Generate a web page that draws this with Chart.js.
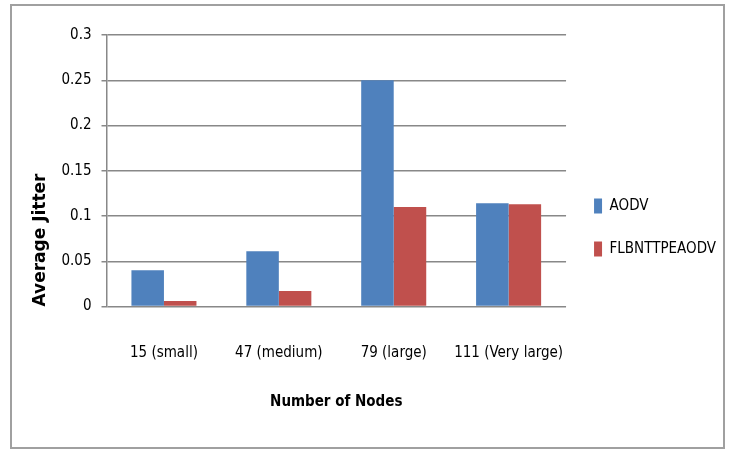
<!DOCTYPE html>
<html>
<head>
<meta charset="utf-8">
<script src="https://cdn.jsdelivr.net/npm/chart.js@4/dist/chart.umd.min.js"></script>
<style>
  html, body { margin: 0; padding: 0; background: #fff; }
  #wrap { position: relative; width: 734px; height: 449px; overflow: hidden; }
  #c { position: absolute; left: 0; top: 0; }
  #frame {
    position: absolute; left: 10px; top: 4px; width: 715px; height: 445px;
    border: 2px solid #a0a0a0; box-sizing: border-box; pointer-events: none;
  }
</style>
</head>
<body>
<div id="wrap">
  <canvas id="c" width="734" height="449"></canvas>
  <div id="frame"></div>
</div>
<script>
// Node counts on the x axis
const categories = ['15 (small)', '47 (medium)', '79 (large)', '111 (Very large)'];
// Average jitter per protocol
const aodv = [0.040, 0.061, 0.25, 0.114];
const flbnttpeaodv = [0.006, 0.017, 0.11, 0.113];
// Value axis ticks
const yTicks = [0, 0.05, 0.1, 0.15, 0.2, 0.25, 0.3];

const narrow = "'DejaVu Sans Condensed', 'Liberation Sans Narrow', sans-serif";
const gridGray = '#888888';

// Plot box: left 106.5, right 567, top 35, bottom 306.5
const PAD_TOP = 35;
const PAD_BOTTOM = 29;
const PLOT_BOTTOM = 306.5;
const H = 449;

new Chart(document.getElementById('c'), {
  type: 'bar',
  data: {
    labels: categories,
    datasets: [
      { label: 'AODV', data: aodv, backgroundColor: '#4F81BD' },
      { label: 'FLBNTTPEAODV', data: flbnttpeaodv, backgroundColor: '#C0504D' }
    ]
  },
  options: {
    responsive: false,
    animation: false,
    devicePixelRatio: 1,
    layout: { padding: { left: 0, right: 8, top: PAD_TOP, bottom: PAD_BOTTOM } },
    datasets: { bar: { barPercentage: 1.0, categoryPercentage: 0.566 } },
    plugins: {
      tooltip: { enabled: false },
      legend: {
        position: 'right',
        align: 'center',
        maxWidth: 167,
        labels: {
          boxWidth: 8,
          boxHeight: 15,
          padding: 28,
          color: '#000',
          font: { family: narrow, size: 15 }
        }
      }
    },
    scales: {
      x: {
        grid: { display: false, drawTicks: false },
        border: { display: false },
        ticks: {
          color: '#000',
          padding: 38,
          maxRotation: 0,
          minRotation: 0,
          autoSkip: false,
          font: { family: narrow, size: 15 }
        },
        title: {
          display: true,
          text: 'Number of Nodes',
          color: '#000',
          font: { family: narrow, size: 15, weight: 'bold' },
          padding: { top: 0, bottom: 9 }
        },
        afterFit: (s) => {
          s.height = H - PAD_BOTTOM - PLOT_BOTTOM;
          s.paddingLeft = 0;
          s.paddingRight = 0;
        }
      },
      y: {
        min: 0,
        max: 0.3,
        afterBuildTicks: (s) => { s.ticks = yTicks.map(v => ({ value: v })); },
        grid: { color: gridGray, lineWidth: 1.5, tickLength: 5, tickColor: gridGray },
        border: { display: true, color: gridGray, width: 1.5 },
        ticks: {
          color: '#000',
          padding: 10,
          font: { family: narrow, size: 15 },
          callback: (v) => String(v)
        },
        title: {
          display: true,
          text: 'Average Jitter',
          align: 'start',
          color: '#000',
          font: { family: "'DejaVu Sans', sans-serif", size: 17, weight: 'bold' },
          padding: { top: 30, bottom: 0 }
        },
        afterFit: (s) => {
          s.width = 106.5;
          s.paddingTop = 0;
          s.paddingBottom = 0;
        }
      }
    }
  }
});
</script>
</body>
</html>
